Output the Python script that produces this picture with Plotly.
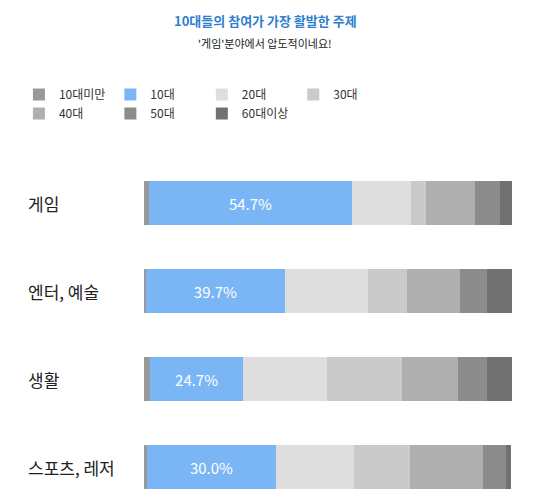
import plotly.graph_objects as go

categories = ["게임", "엔터, 예술", "생활", "스포츠, 레저"]
groups = ["10대미만", "10대", "20대", "30대", "40대", "50대", "60대이상"]
values = {
    "10대미만": [1.3, 0.5, 1.6, 0.8],
    "10대": [55.3, 37.8, 25.4, 35.1],
    "20대": [16.0, 22.6, 22.6, 21.2],
    "30대": [4.0, 10.5, 20.6, 15.2],
    "40대": [13.4, 14.6, 15.0, 19.7],
    "50대": [6.7, 7.2, 8.1, 6.3],
    "60대이상": [3.3, 6.8, 6.8, 1.5],
}
teen_labels = ["54.7%", "39.7%", "24.7%", "30.0%"]
colors = ["#999999", "#7ab6f5", "#dedede", "#cacaca", "#afafaf", "#8c8c8c", "#717171"]

font = "Noto Sans CJK KR"
fig = go.Figure()
for g, c in zip(groups, colors):
    fig.add_bar(
        y=categories, x=values[g], name=g, orientation="h", marker_color=c,
        marker_line_width=0, width=0.5,
        text=teen_labels if g == "10대" else None,
        textposition="inside" if g == "10대" else "none",
        insidetextanchor="middle",
        textfont=dict(color="white", size=15, family=font),
        hoverinfo="skip",
    )

for i, cat in enumerate(categories):
    fig.add_annotation(text=cat, xref="paper", yref="y", x=-118/368, y=cat,
                       xanchor="left", showarrow=False,
                       font=dict(size=17, color="#222", family=font))

fig.add_annotation(text="<b>10대들의 참여가 가장 활발한 주제</b>", xref="paper", yref="paper",
                   x=0.33, xanchor="center", y=(503-12)/350, yanchor="middle",
                   showarrow=False, font=dict(size=13, color="#2f7fd0", family=font))
fig.add_annotation(text="'게임'분야에서 압도적이네요!", xref="paper", yref="paper",
                   x=0.33, xanchor="center", y=(503-35)/350, yanchor="middle",
                   showarrow=False, font=dict(size=11, color="#222", family=font))

fig.update_layout(
    width=546, height=503, barmode="stack", plot_bgcolor="white", paper_bgcolor="white",
    margin=dict(l=136, r=42, t=153, b=0),
    showlegend=True,
    legend=dict(orientation="h", xref="container", yref="container", x=0.02, y=1 - 96/503,
                yanchor="middle", font=dict(size=12, color="#333", family=font),
                itemwidth=30, traceorder="normal", tracegroupgap=0),
    xaxis=dict(visible=False, range=[0, 100], fixedrange=True),
    yaxis=dict(visible=False, categoryorder="array", categoryarray=categories,
               autorange=False, range=[3.5, -0.48]),
    uniformtext=dict(mode="show", minsize=10),
)
fig.write_html("out.html")
